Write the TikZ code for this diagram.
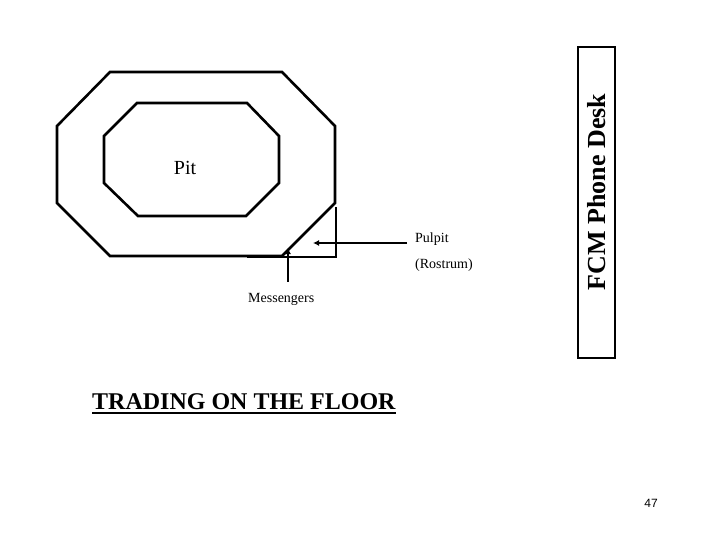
\documentclass[tikz,border=0pt]{standalone}
\usepackage{fontspec}
\setmainfont{Liberation Serif}
\newfontfamily\pagenumfont{Liberation Sans}
\usepackage{xcolor}
\usepackage{tikz}
\usetikzlibrary{arrows.meta, calc}
\tikzset{
  pitwall/.style={draw=black, line width=2.6pt, line join=miter},
  pulpitline/.style={draw=black, line width=2pt},
  pointer/.style={
    draw=black, line width=1.8pt, -{Latex[length=6pt, width=6pt]}
  },
  deskbox/.style={
    rectangle, draw=black, line width=2pt,
    minimum width=310pt, minimum height=37pt, inner sep=0pt
  },
  desklabel/.style={font=\fontsize{26}{28}\selectfont\bfseries, inner sep=0pt},
  pitlabel/.style={font=\fontsize{20}{24}\selectfont, inner sep=0pt},
  smalllabel/.style={font=\fontsize{14}{16}\selectfont, inner sep=0pt},
  titlelabel/.style={font=\fontsize{24}{28}\selectfont\bfseries, inner sep=0pt},
  underline/.style={draw=black, line width=2pt}
}

\begin{document}
\begin{tikzpicture}[x=1pt, y=-1pt]
  \useasboundingbox (0,0) rectangle (720,540);

  % trading floor: outer ring and pit
  \draw[pitwall] (110,72) -- (282,72) -- (335,126) -- (335,203) -- (282,256)
    -- (110,256) -- (57,203) -- (57,126) -- cycle;
  \draw[pitwall] (137,103) -- (247,103) -- (279,136) -- (279,183) -- (246,216)
    -- (138,216) -- (104,183) -- (104,136) -- cycle;
  \node[pitlabel, anchor=base] (pit) at (185,175) {Pit};

  % pulpit corner
  \draw[pulpitline] (336,207) -- (336,257) -- (247,257);

  \node[smalllabel, anchor=base west] (pulpit) at (415,243) {Pulpit};
  \node[smalllabel, anchor=base west] (rostrum) at (415,268) {(Rostrum)};
  \node[smalllabel, anchor=base west] (messengers) at (248,302) {Messengers};

  \coordinate (pulpit tip) at (313,243);
  \coordinate (messenger tip) at (288,248);
  \draw[pointer] ([xshift=-8pt]pulpit.base west) -- (pulpit.base -| pulpit tip);
  \draw[pointer] (messengers.north -| messenger tip) ++(0,-11) -- (messenger tip);

  % phone desk
  \node[deskbox, rotate=90] (desk) at (596.5,202.5) {};
  \node[desklabel, rotate=90] (desk label) at (597,192) {FCM Phone Desk};

  % title and slide number
  \node[titlelabel, anchor=base west] (title) at (92,409) {TRADING ON THE FLOOR};
  \draw[underline] ([yshift=-4pt]title.base west) -- ([yshift=-4pt]title.base east);
  \node[font=\pagenumfont\fontsize{12}{14}\selectfont, inner sep=0pt] (page) at (651,503) {47};
\end{tikzpicture}
\end{document}
